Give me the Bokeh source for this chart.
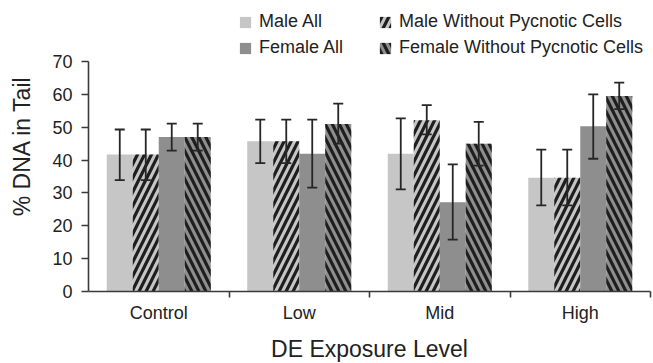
from bokeh.plotting import figure
from bokeh.models import (ColumnDataSource, Range1d, FixedTicker, Whisker, TeeHead,
                          Legend, LegendItem)
from bokeh.embed import file_html
from bokeh.resources import INLINE

categories = ["Control", "Low", "Mid", "High"]

male_all = [41.7, 45.7, 41.9, 34.6]
male_all_lo = [33.9, 39.1, 31.1, 26.2]
male_all_hi = [49.3, 52.3, 52.7, 43.2]

male_wo = [41.7, 45.7, 52.1, 34.6]
male_wo_lo = [33.9, 39.1, 47.8, 26.2]
male_wo_hi = [49.3, 52.3, 56.7, 43.2]

female_all = [47.0, 41.9, 27.2, 50.3]
female_all_lo = [42.9, 31.6, 15.8, 40.4]
female_all_hi = [51.1, 52.3, 38.7, 60.0]

female_wo = [47.0, 51.0, 45.0, 59.5]
female_wo_lo = [42.9, 45.0, 38.3, 55.5]
female_wo_hi = [51.1, 57.2, 51.6, 63.6]

y_ticks = [0, 10, 20, 30, 40, 50, 60, 70]

series_names = ["Male All", "Male Without Pycnotic Cells",
                "Female All", "Female Without Pycnotic Cells"]

FONT = "Liberation Sans"
LIGHT = "#c6c6c6"
DARK = "#8e8e8e"
INK = "#262626"

FW, FH = 562, 291
Y_TOP = 88.57   # extra headroom above 70 holds the legend
p = figure(frame_width=FW, frame_height=FH, output_backend="svg", toolbar_location=None,
           x_range=Range1d(0, 4), y_range=Range1d(0, Y_TOP),
           min_border_left=88, min_border_right=3, min_border_top=0,
           min_border_bottom=72, outline_line_color=None)
p.grid.visible = False

bw = 0.185
offsets = [-1.5 * bw, -0.5 * bw, 0.5 * bw, 1.5 * bw]
series = [
    (male_all, male_all_lo, male_all_hi, LIGHT, None),
    (male_wo, male_wo_lo, male_wo_hi, LIGHT, "right_diagonal_line"),
    (female_all, female_all_lo, female_all_hi, DARK, None),
    (female_wo, female_wo_lo, female_wo_hi, DARK, "left_diagonal_line"),
]

renderers = []
for (vals, lo, hi, col, hatch), off in zip(series, offsets):
    xs = [i + 0.5 + off for i in range(len(categories))]
    src = ColumnDataSource(dict(x=xs, top=vals, lo=lo, hi=hi))
    kw = {}
    if hatch:
        kw = dict(hatch_pattern=hatch, hatch_color="#1e1e1e", hatch_scale=14,
                  hatch_weight=3.2, hatch_alpha=1.0)
    r = p.vbar(x="x", top="top", width=bw, source=src, fill_color=col,
               line_color=None, **kw)
    renderers.append(r)
    w = Whisker(base="x", upper="hi", lower="lo", source=src, level="annotation",
                line_color=INK, line_width=1.8,
                upper_head=TeeHead(size=10, line_color=INK, line_width=1.8),
                lower_head=TeeHead(size=10, line_color=INK, line_width=1.8))
    p.add_layout(w)

# axes
xax = p.xaxis[0]
xax.ticker = FixedTicker(ticks=[i + 0.5 for i in range(len(categories))],
                         minor_ticks=[1, 2, 3, 4])
xax.major_label_overrides = {i + 0.5: c for i, c in enumerate(categories)}
xax.major_tick_out = 0
xax.major_tick_in = 0
xax.minor_tick_out = 6
xax.minor_tick_in = 0
xax.axis_label = "DE Exposure Level"

yax = p.yaxis[0]
yax.ticker = FixedTicker(ticks=y_ticks, minor_ticks=[])
yax.bounds = (y_ticks[0], y_ticks[-1])
yax.major_tick_out = 7
yax.major_tick_in = 0
yax.minor_tick_out = 0
yax.minor_tick_in = 0
yax.axis_label = "% DNA in Tail"

for ax in (xax, yax):
    ax.axis_line_color = "#3a3a3a"
    ax.axis_line_width = 1.6
    ax.major_tick_line_color = "#3a3a3a"
    ax.major_tick_line_width = 1.6
    ax.minor_tick_line_color = "#3a3a3a"
    ax.minor_tick_line_width = 1.6
    ax.major_label_text_font = FONT
    ax.major_label_text_font_size = "18px"
    ax.major_label_text_color = "#222222"
    ax.axis_label_text_font = FONT
    ax.axis_label_text_font_size = "23px"
    ax.axis_label_text_font_style = "normal"
    ax.axis_label_text_color = "#222222"

xax.major_label_standoff = 5
xax.axis_label_standoff = 10
yax.major_label_standoff = 9
yax.axis_label_standoff = 14

items = [LegendItem(label=n, renderers=[r]) for n, r in zip(series_names, renderers)]
common = dict(border_line_color=None, background_fill_alpha=0, padding=0, margin=0,
              spacing=5, glyph_width=14, glyph_height=14, label_height=20,
              label_standoff=7, label_text_font=FONT, label_text_font_size="18px",
              label_text_color="#222222")
leg1 = Legend(items=[items[0], items[2]], location=(150, 233), **common)
leg2 = Legend(items=[items[1], items[3]], location=(290, 233), **common)
p.add_layout(leg1)
p.add_layout(leg2)

open("out.html", "w").write(file_html(p, INLINE))
